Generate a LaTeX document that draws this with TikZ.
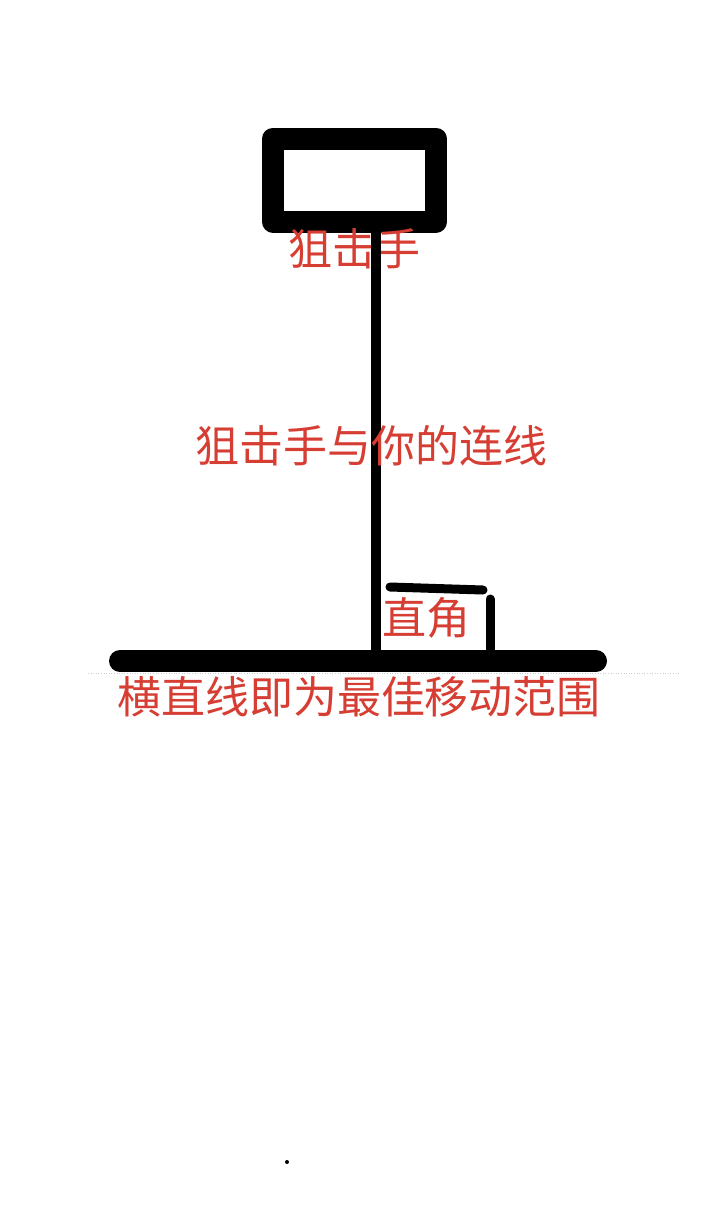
\documentclass[tikz,border=0pt]{standalone}
\usepackage{fontspec}
\newfontfamily\cjk{Noto Sans CJK SC}
\definecolor{labelRed}{RGB}{214,62,52}
\begin{document}
\begin{tikzpicture}[%%
  x=1pt,y=-1pt,%%
  lineStyle/.style={-,line cap=round,line join=round,black},%%
  boxStyle/.style={draw,black,line width=22pt,line join=round,inner sep=0pt,
    minimum width=163pt,minimum height=83pt},%%
  labelStyle/.style={text=labelRed,font=\cjk\fontsize{44}{48}\selectfont,inner sep=0pt},%%
  guideStyle/.style={gray!40,line width=0.6pt,dotted}
]
%%
%% The page.
\useasboundingbox (0,0) rectangle (720,1208);
%%
%% Coordinates of the horizontal bar and the right angle mark.
\coordinate (barLeft) at (120,661);
\coordinate (barRight) at (596,661);
\coordinate (foot) at (376,655);
\coordinate (markA) at (390,587);
\coordinate (markB) at (483,590);
\coordinate (markC) at (490,599);
\coordinate (markD) at (490,650);
\coordinate (guideLeft) at (88,673);
\coordinate (guideRight) at (680,673);
%%
%% The sniper.
\node[boxStyle] (sniper) at (354.5,180) {};
\node[labelStyle] (sniperLabel) at (354,249) {狙击手};
%%
%% Draw the line from the sniper to you.
\draw[lineStyle,line width=10pt,line cap=butt] (sniper.south -| foot) -- (foot);
\node[labelStyle] (lineLabel) at (371,446) {狙击手与你的连线};
%%
%% Draw the horizontal bar.
\draw[guideStyle] (guideLeft) -- (guideRight);
\draw[lineStyle,line width=22pt] (barLeft) -- (barRight);
\node[labelStyle] (barLabel) at (359,697) {横直线即为最佳移动范围};
%%
%% Draw the right angle mark.
\draw[lineStyle,line width=9pt] (markA) -- (markB);
\draw[lineStyle,line width=9pt] (markC) -- (markD);
\node[labelStyle] (angleLabel) at (426,618) {直角};
%%
%% The dot.
\fill[black] (287,1162) circle (2);
\end{tikzpicture}
\end{document}
